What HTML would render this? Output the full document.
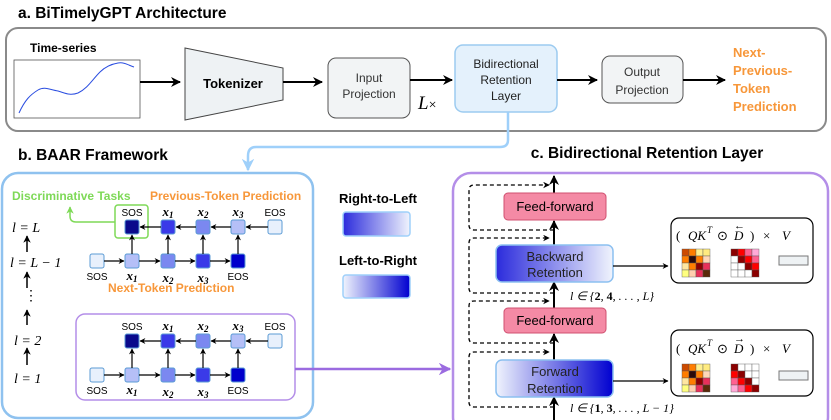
<!DOCTYPE html>
<html><head><meta charset="utf-8"><style>
html,body{margin:0;padding:0;background:#fff}
svg{display:block;font-family:"Liberation Sans",sans-serif}
.m{font-family:"Liberation Serif",serif;font-style:italic}
.t{font-weight:bold;font-size:15.5px}
</style></head><body>
<svg width="831" height="420" viewBox="0 0 831 420" xmlns="http://www.w3.org/2000/svg">
<defs>
<marker id="a" viewBox="0 0 10 10" refX="9" refY="5" markerWidth="5" markerHeight="5" orient="auto"><path d="M0,0 L10,5 L0,10 L3,5z" fill="#000"/></marker>
<marker id="ab" viewBox="0 0 10 10" refX="9" refY="5" markerWidth="5" markerHeight="5" orient="auto"><path d="M0,0 L10,5 L0,10 L3,5z" fill="#9fd0fa"/></marker>
<marker id="ap" viewBox="0 0 10 10" refX="9" refY="5" markerWidth="5" markerHeight="5" orient="auto"><path d="M0,0 L10,5 L0,10 L3,5z" fill="#9b6be0"/></marker>
<marker id="ag" viewBox="0 0 10 10" refX="9" refY="5" markerWidth="5" markerHeight="5" orient="auto"><path d="M0,0 L10,5 L0,10 L3,5z" fill="#7ed957"/></marker>
<linearGradient id="rl" x1="0" x2="1"><stop offset="0" stop-color="#2b2bdc"/><stop offset="1" stop-color="#f0f4fd"/></linearGradient>
<linearGradient id="lr" x1="0" x2="1"><stop offset="0" stop-color="#f0f4fd"/><stop offset="1" stop-color="#0000d0"/></linearGradient>
</defs>

<!-- part a -->
<text x="18" y="18" class="t">a. BiTimelyGPT Architecture</text>
<rect x="6" y="28" width="820" height="103" rx="12" fill="#fff" stroke="#8a8a8a" stroke-width="2"/>
<text x="30" y="52" font-size="12" font-weight="bold">Time-series</text>
<rect x="14" y="60" width="126" height="58" fill="#fff" stroke="#555" stroke-width="0.8"/>
<path d="M19,113 C25,100 30,95 38,90 C45,86 50,90 58,91 C65,93 70,96 78,93 C88,88 92,80 100,72 C106,66 112,64 118,63 C124,62 128,65 134,67" fill="none" stroke="#2a4de0" stroke-width="1"/>
<line x1="140" y1="82" x2="180" y2="82" stroke="#000" stroke-width="2" marker-end="url(#a)"/>
<path d="M185,48 L283,68 L283,100 L185,120Z" fill="#eef2f4" stroke="#444" stroke-width="1"/>
<text x="233" y="88" font-size="13" font-weight="bold" text-anchor="middle">Tokenizer</text>
<line x1="283" y1="82" x2="322" y2="82" stroke="#000" stroke-width="2" marker-end="url(#a)"/>
<rect x="328" y="58" width="82" height="60" rx="8" fill="#f2f4f5" stroke="#555"/>
<text x="369" y="82" font-size="12" text-anchor="middle" fill="#333">Input</text>
<text x="369" y="98" font-size="12" text-anchor="middle" fill="#333">Projection</text>
<line x1="410" y1="80" x2="452" y2="80" stroke="#000" stroke-width="2" marker-end="url(#a)"/>
<text x="418" y="109" font-size="19" class="m">L<tspan font-style="normal" font-size="14">×</tspan></text>
<rect x="455" y="45" width="102" height="67" rx="8" fill="#e4f1fc" stroke="#9ccbf0" stroke-width="1.5"/>
<text x="506" y="68" font-size="12" text-anchor="middle" fill="#222">Bidirectional</text>
<text x="506" y="84" font-size="12" text-anchor="middle" fill="#222">Retention</text>
<text x="506" y="100" font-size="12" text-anchor="middle" fill="#222">Layer</text>
<line x1="557" y1="80" x2="597" y2="80" stroke="#000" stroke-width="2" marker-end="url(#a)"/>
<rect x="602" y="56" width="81" height="47" rx="8" fill="#f2f4f5" stroke="#555"/>
<text x="642" y="76" font-size="12" text-anchor="middle" fill="#333">Output</text>
<text x="642" y="94" font-size="12" text-anchor="middle" fill="#333">Projection</text>
<line x1="683" y1="80" x2="725" y2="80" stroke="#000" stroke-width="2" marker-end="url(#a)"/>
<g font-size="13" font-weight="bold" fill="#f7973a"><text x="733" y="57">Next-</text><text x="733" y="75">Previous-</text><text x="733" y="93">Token</text><text x="733" y="111">Prediction</text></g>

<!-- connector -->
<path d="M508,112 L508,140 Q508,147 500,147 L256,147 Q248,147 248,156 L248,170" fill="none" stroke="#9fd0fa" stroke-width="2.5" marker-end="url(#ab)"/>

<!-- part b -->
<text x="18" y="160" class="t">b. BAAR Framework</text>
<rect x="2" y="173" width="311" height="245" rx="16" fill="#fff" stroke="#8fc2ef" stroke-width="2.5"/>
<text x="12" y="200" font-size="12" font-weight="bold" fill="#7ed957">Discriminative Tasks</text>
<text x="150" y="200" font-size="12" font-weight="bold" fill="#f7973a">Previous-Token Prediction</text>
<rect x="115" y="205" width="33" height="33" rx="3" fill="none" stroke="#7ed957" stroke-width="1.5"/>
<path d="M115,222 L76,222 Q70,222 70,216 L70,207" fill="none" stroke="#7ed957" stroke-width="1.5" marker-end="url(#ag)"/>
<text x="108" y="292" font-size="12" font-weight="bold" fill="#f7973a">Next-Token Prediction</text>

<g class="m" font-size="14">
<text x="12" y="232">l = L</text>
<text x="10" y="267">l = L − 1</text>
<text x="14" y="345">l = 2</text>
<text x="14" y="383">l = 1</text>
</g>
<g stroke="#000" stroke-width="1.5" marker-end="url(#a)">
<line x1="27" y1="252" x2="27" y2="236"/>
<line x1="27" y1="288" x2="27" y2="272"/>
<line x1="27" y1="325" x2="27" y2="310"/>
<line x1="27" y1="365" x2="27" y2="348"/>
</g>
<text x="24" y="300" font-size="14">⋮</text>

<g id="blk">
<g stroke="#5b9bd5" stroke-width="1">
<rect x="125" y="220" width="14" height="14" rx="2" fill="#0a0a8c"/>
<rect x="161" y="220" width="14" height="14" rx="2" fill="#3a3ae8"/>
<rect x="196" y="220" width="14" height="14" rx="2" fill="#7b88f0"/>
<rect x="231" y="220" width="14" height="14" rx="2" fill="#b5bff7"/>
<rect x="268" y="220" width="14" height="14" rx="2" fill="#e8f0fc"/>
<rect x="90" y="254" width="14" height="14" rx="2" fill="#e8f0fc"/>
<rect x="125" y="254" width="14" height="14" rx="2" fill="#b5bff7"/>
<rect x="161" y="254" width="14" height="14" rx="2" fill="#7b88f0"/>
<rect x="196" y="254" width="14" height="14" rx="2" fill="#3a3ae8"/>
<rect x="231" y="254" width="14" height="14" rx="2" fill="#0000cc"/>
</g>
<g stroke="#000" stroke-width="1.2" marker-end="url(#a)">
<line x1="268" y1="227" x2="246" y2="227"/><line x1="231" y1="227" x2="211" y2="227"/><line x1="196" y1="227" x2="176" y2="227"/><line x1="161" y1="227" x2="140" y2="227"/>
<line x1="104" y1="261" x2="124" y2="261"/><line x1="139" y1="261" x2="160" y2="261"/><line x1="175" y1="261" x2="195" y2="261"/><line x1="210" y1="261" x2="230" y2="261"/>
<line x1="132" y1="254" x2="132" y2="235"/><line x1="168" y1="254" x2="168" y2="235"/><line x1="203" y1="254" x2="203" y2="235"/><line x1="238" y1="254" x2="238" y2="235"/>
</g>
<g font-size="10" text-anchor="middle">
<text x="132" y="216">SOS</text><text x="275" y="216">EOS</text>
<text x="97" y="280">SOS</text><text x="238" y="280">EOS</text>
</g>
<g class="m" font-size="13" text-anchor="middle" font-weight="bold">
<text x="168" y="216">x<tspan font-size="9" dy="2">1</tspan></text>
<text x="203" y="216">x<tspan font-size="9" dy="2">2</tspan></text>
<text x="238" y="216">x<tspan font-size="9" dy="2">3</tspan></text>
<text x="132" y="280">x<tspan font-size="9" dy="2">1</tspan></text>
<text x="168" y="282">x<tspan font-size="9" dy="2">2</tspan></text>
<text x="203" y="282">x<tspan font-size="9" dy="2">3</tspan></text>
</g>
</g>
<rect x="76" y="314" width="219" height="86" rx="9" fill="none" stroke="#b48ee8" stroke-width="1.5"/>
<use href="#blk" transform="translate(0,114)"/>
<line x1="295" y1="369" x2="450" y2="369" stroke="#9b6be0" stroke-width="2.5" marker-end="url(#ap)"/>

<text x="378" y="203" font-size="13" font-weight="bold" text-anchor="middle">Right-to-Left</text>
<rect x="343" y="212" width="67" height="24" rx="3" fill="url(#rl)" stroke="#9fd0fa" stroke-width="1.5"/>
<text x="378" y="265" font-size="13" font-weight="bold" text-anchor="middle">Left-to-Right</text>
<rect x="343" y="275" width="67" height="23" rx="3" fill="url(#lr)" stroke="#9fd0fa" stroke-width="1.5"/>

<!-- part c -->
<text x="647" y="158" class="t" text-anchor="middle">c. Bidirectional Retention Layer</text>
<rect x="453" y="173" width="375" height="262" rx="18" fill="#fff" stroke="#b48ee8" stroke-width="2.5"/>
<g stroke="#000" stroke-width="2" marker-end="url(#a)">
<line x1="554" y1="420" x2="554" y2="397"/>
<line x1="554" y1="360" x2="554" y2="334"/>
<line x1="554" y1="308" x2="554" y2="282"/>
<line x1="554" y1="245" x2="554" y2="221"/>
<line x1="554" y1="193" x2="554" y2="176"/>
</g>
<g fill="none" stroke="#000" stroke-width="1.3" stroke-dasharray="4,3" marker-end="url(#a)">
<path d="M554,407 L474,407 Q469,407 469,402 L469,357 Q469,352 474,352 L549,352"/>
<path d="M554,343 L474,343 Q469,343 469,338 L469,306 Q469,301 474,301 L549,301"/>
<path d="M554,293 L474,293 Q469,293 469,288 L469,243 Q469,238 474,238 L549,238"/>
<path d="M554,230 L474,230 Q469,230 469,225 L469,190 Q469,185 474,185 L549,185"/>
</g>
<rect x="504" y="193" width="102" height="27" rx="4" fill="#f48aa5" stroke="#d05070"/>
<text x="555" y="211" font-size="13" text-anchor="middle">Feed-forward</text>
<rect x="496" y="245" width="117" height="37" rx="6" fill="url(#rl)" stroke="#8cc0f0" stroke-width="1.5"/>
<text x="555" y="261" font-size="13" text-anchor="middle" fill="#222">Backward</text>
<text x="555" y="277" font-size="13" text-anchor="middle" fill="#222">Retention</text>
<text x="570" y="300" class="m" font-size="12">l ∈ {<tspan font-weight="bold" font-style="normal">2</tspan>, <tspan font-weight="bold" font-style="normal">4</tspan>, . . . , L}</text>
<rect x="504" y="308" width="102" height="25" rx="4" fill="#f48aa5" stroke="#d05070"/>
<text x="555" y="325" font-size="13" text-anchor="middle">Feed-forward</text>
<rect x="496" y="360" width="117" height="37" rx="6" fill="url(#lr)" stroke="#8cc0f0" stroke-width="1.5"/>
<text x="555" y="376" font-size="13" text-anchor="middle" fill="#222">Forward</text>
<text x="555" y="393" font-size="13" text-anchor="middle" fill="#222">Retention</text>
<text x="570" y="412" class="m" font-size="12">l ∈ {<tspan font-weight="bold" font-style="normal">1</tspan>, <tspan font-weight="bold" font-style="normal">3</tspan>, . . . , L − 1}</text>

<g stroke="#000" stroke-width="1.2" marker-end="url(#a)">
<line x1="613" y1="266" x2="668" y2="266"/>
<line x1="613" y1="381" x2="668" y2="381"/>
</g>
<rect x="671" y="218" width="142" height="65" rx="8" fill="#fff" stroke="#000" stroke-width="1.2"/>
<rect x="671" y="330" width="142" height="66" rx="8" fill="#fff" stroke="#000" stroke-width="1.2"/>
<g id="fm" font-size="13" font-family="Liberation Serif,serif">
<text x="676" y="240">(</text>
<text x="688" y="240" font-style="italic">QK</text>
<text x="707" y="233" font-size="9" font-style="italic">T</text>
<text x="717" y="240">⊙</text>
<text x="734" y="240" font-style="italic">D</text>
<text x="750" y="240">)</text>
<text x="763" y="240">×</text>
<text x="782" y="240" font-style="italic">V</text>
</g>
<use href="#fm" transform="translate(0,113)"/>
<text x="734" y="229" font-size="11" font-family="Liberation Serif,serif">←</text>
<text x="734" y="342" font-size="11" font-family="Liberation Serif,serif">→</text>
<g id="mq" stroke="#555" stroke-width="0.4">
<rect x="682" y="249" width="7" height="7" fill="#cc4a00"/><rect x="689" y="249" width="7" height="7" fill="#ff7d00"/><rect x="696" y="249" width="7" height="7" fill="#fff08f"/><rect x="703" y="249" width="7" height="7" fill="#ffeb80"/>
<rect x="682" y="256" width="7" height="7" fill="#ff7d00"/><rect x="689" y="256" width="7" height="7" fill="#2b0a0a"/><rect x="696" y="256" width="7" height="7" fill="#ff7d00"/><rect x="703" y="256" width="7" height="7" fill="#ffd8b8"/>
<rect x="682" y="263" width="7" height="7" fill="#ffe6a0"/><rect x="689" y="263" width="7" height="7" fill="#ff7d00"/><rect x="696" y="263" width="7" height="7" fill="#8b0000"/><rect x="703" y="263" width="7" height="7" fill="#e8305a"/>
<rect x="682" y="270" width="7" height="7" fill="#ffff80"/><rect x="689" y="270" width="7" height="7" fill="#ffd0b0"/><rect x="696" y="270" width="7" height="7" fill="#e8305a"/><rect x="703" y="270" width="7" height="7" fill="#5a2a0a"/>
</g>
<use href="#mq" transform="translate(0,115)"/>
<g stroke="#555" stroke-width="0.4">
<rect x="731" y="249" width="7" height="7" fill="#8b0000"/><rect x="738" y="249" width="7" height="7" fill="#ff0000"/><rect x="745" y="249" width="7" height="7" fill="#ff6090"/><rect x="752" y="249" width="7" height="7" fill="#ffaad8"/>
<rect x="731" y="256" width="7" height="7" fill="#fff"/><rect x="738" y="256" width="7" height="7" fill="#8b0000"/><rect x="745" y="256" width="7" height="7" fill="#ff0000"/><rect x="752" y="256" width="7" height="7" fill="#ff6090"/>
<rect x="731" y="263" width="7" height="7" fill="#fff"/><rect x="738" y="263" width="7" height="7" fill="#fff"/><rect x="745" y="263" width="7" height="7" fill="#8b0000"/><rect x="752" y="263" width="7" height="7" fill="#ff0000"/>
<rect x="731" y="270" width="7" height="7" fill="#fff"/><rect x="738" y="270" width="7" height="7" fill="#fff"/><rect x="745" y="270" width="7" height="7" fill="#fff"/><rect x="752" y="270" width="7" height="7" fill="#8b0000"/>

<rect x="731" y="364" width="7" height="7" fill="#8b0000"/><rect x="738" y="364" width="7" height="7" fill="#fff"/><rect x="745" y="364" width="7" height="7" fill="#fff"/><rect x="752" y="364" width="7" height="7" fill="#fff"/>
<rect x="731" y="371" width="7" height="7" fill="#ff0000"/><rect x="738" y="371" width="7" height="7" fill="#8b0000"/><rect x="745" y="371" width="7" height="7" fill="#fff"/><rect x="752" y="371" width="7" height="7" fill="#fff"/>
<rect x="731" y="378" width="7" height="7" fill="#ff6090"/><rect x="738" y="378" width="7" height="7" fill="#ff0000"/><rect x="745" y="378" width="7" height="7" fill="#8b0000"/><rect x="752" y="378" width="7" height="7" fill="#fff"/>
<rect x="731" y="385" width="7" height="7" fill="#ffaad8"/><rect x="738" y="385" width="7" height="7" fill="#ff6090"/><rect x="745" y="385" width="7" height="7" fill="#ff0000"/><rect x="752" y="385" width="7" height="7" fill="#8b0000"/>
</g>
<rect x="779" y="256" width="29" height="9" fill="#eef2f4" stroke="#777"/>
<rect x="779" y="371" width="29" height="9" fill="#eef2f4" stroke="#777"/>
</svg>
</body></html>
